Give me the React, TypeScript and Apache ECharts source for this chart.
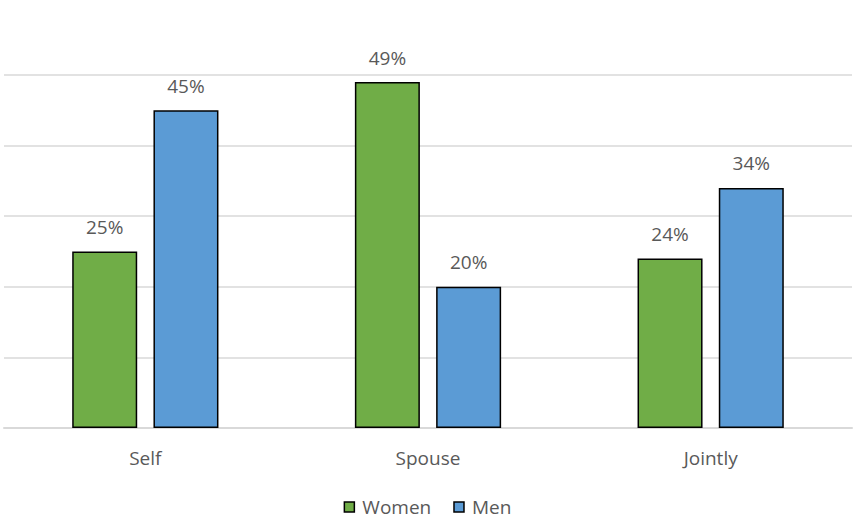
import React, { useEffect, useRef } from "react";
import * as echarts from "echarts";

const categories = ["Self", "Spouse", "Jointly"];
const women = [25, 49, 24];
const men = [45, 20, 34];
const seriesNames = ["Women", "Men"];

export default function App() {
  const ref = useRef<HTMLDivElement>(null);
  useEffect(() => {
    if (!ref.current) return;
    const chart = echarts.init(ref.current, undefined, { renderer: "svg" });
    const font = "'Open Sans', 'DejaVu Sans', sans-serif";
    const label = {
      show: true,
      position: "top" as const,
      distance: 15,
      formatter: "{c}%",
      color: "#595959",
      fontSize: 19,
      fontFamily: font,
    };
    chart.setOption({
      animation: false,
      grid: { left: 4, right: 3, top: 75, bottom: 91, containLabel: false },
      legend: {
        top: 497,
        left: "center",
        padding: 0,
        itemWidth: 10,
        itemHeight: 10,
        itemGap: 22,
        icon: "rect",
        itemStyle: { borderColor: "#000", borderWidth: 1.5 },
        textStyle: { color: "#595959", fontSize: 19, lineHeight: 20, fontFamily: font, padding: [0, 0, 0, 3] },
        data: seriesNames,
      },
      xAxis: {
        type: "category",
        data: categories,
        axisLine: { lineStyle: { color: "#d9d9d9", width: 2 } },
        axisTick: { show: false },
        axisLabel: { color: "#595959", fontSize: 19, fontFamily: font, margin: 20 },
      },
      yAxis: {
        type: "value",
        min: 0,
        max: 50,
        interval: 10,
        axisLabel: { show: false },
        axisLine: { show: false },
        axisTick: { show: false },
        splitLine: { lineStyle: { color: "#d9d9d9", width: 1.5 } },
      },
      series: [
        {
          name: seriesNames[0],
          type: "bar",
          data: women,
          barWidth: 65,
          barGap: "25%",
          itemStyle: { color: "#70AD47", borderColor: "#000", borderWidth: 1.5 },
          label,
        },
        {
          name: seriesNames[1],
          type: "bar",
          data: men,
          barWidth: 65,
          barGap: "25%",
          itemStyle: { color: "#5B9BD5", borderColor: "#000", borderWidth: 1.5 },
          label,
        },
      ],
    });
    return () => chart.dispose();
  }, []);
  return <div ref={ref} style={{ width: 855, height: 519, position: "absolute", left: 0, top: 0 }} />;
}
